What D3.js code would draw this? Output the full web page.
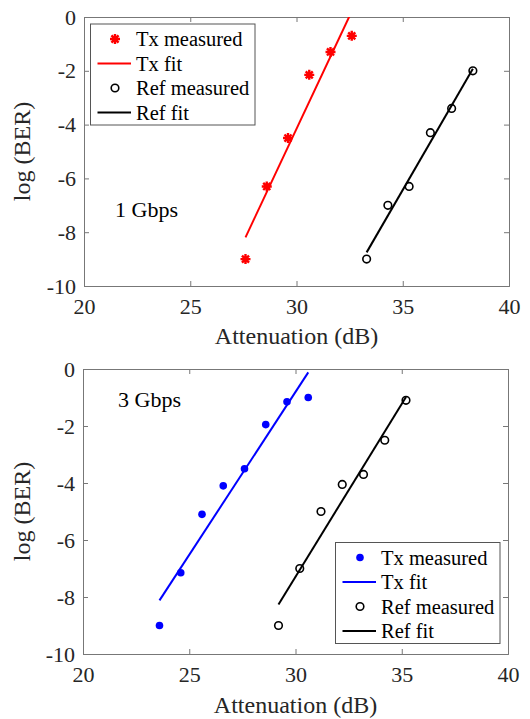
<!DOCTYPE html>
<html>
<head>
<meta charset="utf-8"/>
<script src="https://d3js.org/d3.v7.min.js"></script>
<style>
  body { margin: 0; padding: 0; background: #fff; }
  svg { display: block; }
  svg text { font-family: 'Liberation Serif', 'DejaVu Serif', serif !important; }
  .tick text { font-size: 22px; fill: #262626; }
</style>
</head>
<body>
<svg id="chart" width="530" height="719"></svg>
<script>
// ---- data ----
const xTicks = [20, 25, 30, 35, 40];
const yTicks = [0, -2, -4, -6, -8, -10];

// 1 Gbps
const tx1X = [27.6, 28.6, 29.6, 30.6, 31.6, 32.6];
const tx1Y = [-9, -6.3, -4.5, -2.15, -1.3, -0.7];
const tx1FitX = [27.6, 32.6];
const tx1FitY = [-8.19, 0.21];
const ref1X = [33.3, 34.3, 35.3, 36.3, 37.3, 38.3];
const ref1Y = [-9, -7, -6.3, -4.3, -3.4, -2];
const ref1FitX = [33.3, 38.3];
const ref1FitY = [-8.75, -1.92];

// 3 Gbps
const tx3X = [23.6, 24.6, 25.6, 26.6, 27.6, 28.6, 29.6, 30.6];
const tx3Y = [-9, -7.15, -5.1, -4.1, -3.5, -1.95, -1.15, -1.0];
const tx3FitX = [23.6, 30.6];
const tx3FitY = [-8.12, -0.12];
const ref3X = [29.2, 30.2, 31.2, 32.2, 33.2, 34.2, 35.2];
const ref3Y = [-9, -7, -5, -4.05, -3.7, -2.5, -1.1];
const ref3FitX = [29.2, 35.2];
const ref3FitY = [-8.26, -0.98];

const legendLabels = ["Tx measured", "Tx fit", "Ref measured", "Ref fit"];

const svg = d3.select("#chart");

const panels = [
  { top: 17, bottom: 286, left: 84, right: 509, color: "#ff0000", marker: "star",
    tx: [tx1X, tx1Y], txFit: [tx1FitX, tx1FitY], ref: [ref1X, ref1Y], refFit: [ref1FitX, ref1FitY],
    label: "1 Gbps", labelPos: [115, 217],
    legend: { x: 90.5, y: 24, w: 164.5, h: 101 },
    xTitleY: 344, id: "p1" },
  { top: 369, bottom: 654, left: 83, right: 508, color: "#0000ff", marker: "dot",
    tx: [tx3X, tx3Y], txFit: [tx3FitX, tx3FitY], ref: [ref3X, ref3Y], refFit: [ref3FitX, ref3FitY],
    label: "3 Gbps", labelPos: [118, 407],
    legend: { x: 335.5, y: 542.5, w: 164.5, h: 101 },
    xTitleY: 713, id: "p2" }
];

function starPath(s) {
  // MATLAB style '*': plus and cross together
  const d = s * 0.7071;
  return `M${-s},0L${s},0M0,${-s}L0,${s}M${-d},${-d}L${d},${d}M${-d},${d}L${d},${-d}`;
}

function drawMarker(g, type, color, cx, cy) {
  if (type === "star") {
    g.append("path").attr("d", starPath(5))
      .attr("transform", `translate(${cx},${cy})`)
      .attr("stroke", color).attr("stroke-width", 2.4).attr("fill", "none");
  } else if (type === "dot") {
    g.append("circle").attr("cx", cx).attr("cy", cy).attr("r", 3.8).attr("fill", color);
  } else {
    g.append("circle").attr("cx", cx).attr("cy", cy).attr("r", 3.8)
      .attr("fill", "none").attr("stroke", "#000").attr("stroke-width", 1.6);
  }
}

panels.forEach(p => {
  const x = d3.scaleLinear().domain([20, 40]).range([p.left, p.right]);
  const y = d3.scaleLinear().domain([-10, 0]).range([p.bottom, p.top]);
  const g = svg.append("g");

  svg.append("clipPath").attr("id", "clip-" + p.id)
    .append("rect").attr("x", p.left).attr("y", p.top)
    .attr("width", p.right - p.left).attr("height", p.bottom - p.top);

  // axes (ticks inside, box on)
  const ax = g.append("g").attr("transform", `translate(0,${p.bottom})`)
    .call(d3.axisBottom(x).tickValues(xTicks).tickSize(-5).tickPadding(12).tickFormat(d3.format("d")));
  const ay = g.append("g").attr("transform", `translate(${p.left},0)`)
    .call(d3.axisLeft(y).tickValues(yTicks).tickSize(-5).tickPadding(8).tickFormat(d => d === 0 ? "0" : "-" + Math.abs(d)));
  const at = g.append("g").attr("transform", `translate(0,${p.top})`)
    .call(d3.axisTop(x).tickValues(xTicks).tickSize(-5).tickFormat(""));
  const ar = g.append("g").attr("transform", `translate(${p.right},0)`)
    .call(d3.axisRight(y).tickValues(yTicks).tickSize(-5).tickFormat(""));
  [ax, ay, at, ar].forEach(a => {
    a.attr("font-family", null).attr("font-size", null);
    a.select(".domain").attr("stroke", "#777").attr("stroke-width", 1);
    a.selectAll(".tick line").attr("stroke", "#777");
  });
  ax.selectAll(".tick text").attr("dy", "0.71em");

  // titles
  g.append("text").attr("x", (p.left + p.right) / 2).attr("y", p.xTitleY)
    .attr("text-anchor", "middle").attr("font-size", 24).attr("fill", "#262626")
    .text("Attenuation (dB)");
  g.append("text")
    .attr("transform", `translate(30,${(p.top + p.bottom) / 2}) rotate(-90)`)
    .attr("text-anchor", "middle").attr("font-size", 24).attr("fill", "#262626")
    .text("log (BER)");

  g.append("text").attr("x", p.labelPos[0]).attr("y", p.labelPos[1])
    .attr("font-size", 22).attr("fill", "#000").text(p.label);

  const line = d3.line().x(d => x(d[0])).y(d => y(d[1]));
  const plot = g.append("g").attr("clip-path", `url(#clip-${p.id})`);

  plot.append("path").datum(d3.zip(p.txFit[0], p.txFit[1])).attr("d", line)
    .attr("stroke", p.color).attr("stroke-width", 2).attr("fill", "none");
  plot.append("path").datum(d3.zip(p.refFit[0], p.refFit[1])).attr("d", line)
    .attr("stroke", "#000").attr("stroke-width", 2).attr("fill", "none");

  d3.zip(p.tx[0], p.tx[1]).forEach(d => drawMarker(plot, p.marker, p.color, x(d[0]), y(d[1])));
  d3.zip(p.ref[0], p.ref[1]).forEach(d => drawMarker(plot, "circle", "#000", x(d[0]), y(d[1])));

  // legend
  const L = p.legend;
  const lg = g.append("g");
  lg.append("rect").attr("x", L.x).attr("y", L.y).attr("width", L.w).attr("height", L.h)
    .attr("fill", "#fff").attr("stroke", "#555").attr("stroke-width", 1);
  legendLabels.forEach((t, i) => {
    const cy = L.y + 15 + i * 24.5;
    const isTx = i < 2;
    const col = isTx ? p.color : "#000";
    if (i % 2 === 0) {
      drawMarker(lg, isTx ? p.marker : "circle", col, L.x + 24.5, cy);
    } else {
      lg.append("line").attr("x1", L.x + 7).attr("x2", L.x + 40.5)
        .attr("y1", cy).attr("y2", cy).attr("stroke", col).attr("stroke-width", 2);
    }
    lg.append("text").attr("x", L.x + 45.5).attr("y", cy + 7)
      .attr("font-size", 20.5).attr("fill", "#000").text(t);
  });
});
</script>
</body>
</html>
